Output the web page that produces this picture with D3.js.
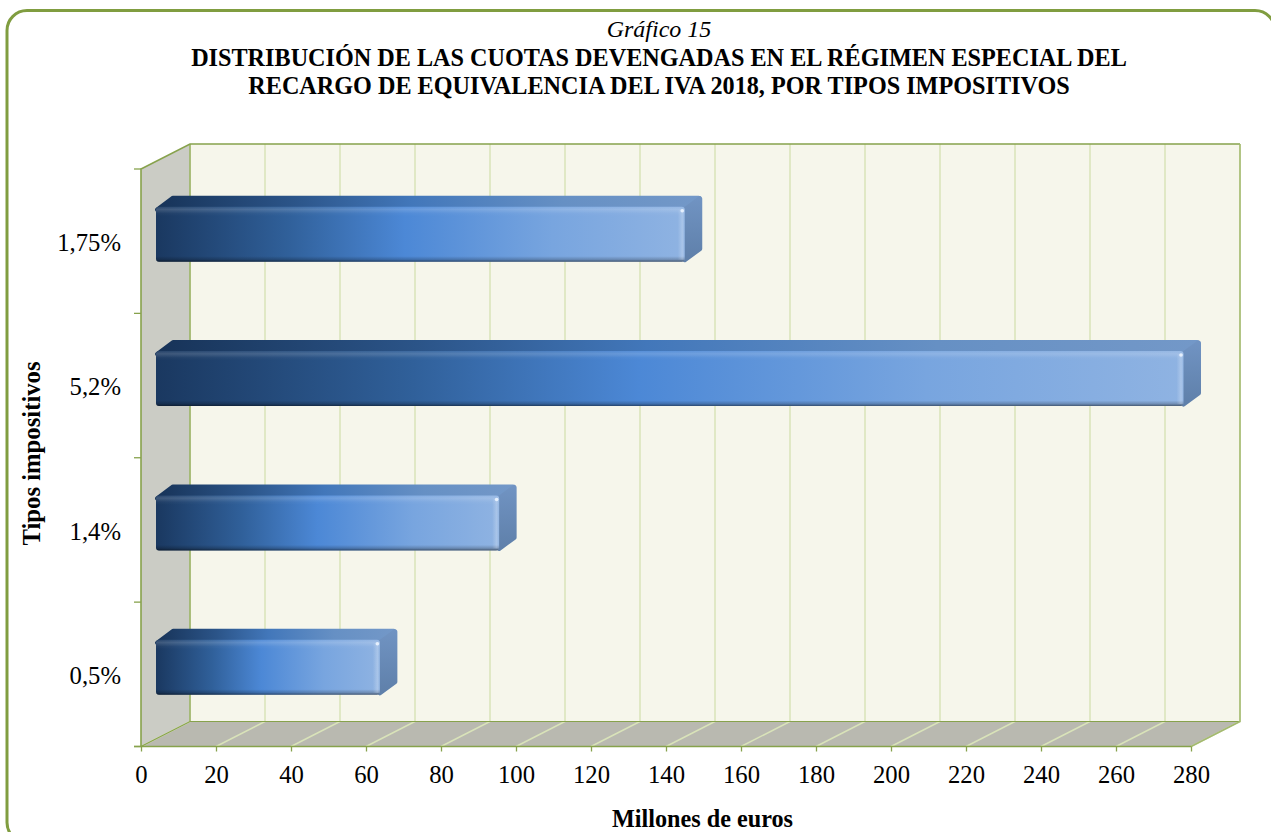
<!DOCTYPE html>
<html lang="en">
<head>
  <meta charset="utf-8">
  <script src="https://d3js.org/d3.v7.min.js"></script>
  <style>
    html, body { margin: 0; padding: 0; background: #fff; overflow: hidden; }
    svg { display: block; }
    text { font-family: "Liberation Serif", serif; fill: #000; }
  </style>
</head>
<body>
<script>
  // data
  const categories = ["1,75%", "5,2%", "1,4%", "0,5%"];
  const values = [141, 274, 91.5, 59.7];
  const xTicks = d3.range(0, 281, 20);
  const titleLines = [
    "DISTRIBUCIÓN DE LAS CUOTAS DEVENGADAS EN EL RÉGIMEN ESPECIAL DEL",
    "RECARGO DE EQUIVALENCIA DEL IVA 2018, POR TIPOS IMPOSITIVOS"
  ];

  const w = 1271, h = 832;
  const plot = { left: 141, right: 1191, top: 169, bottom: 746.5 };
  const depth = { x: 49, y: -25 };     // how far the back wall sits from the front edge
  const barDepth = { x: 17, y: -11 };
  const green = "#87a24c", grid = "#d9e3b9";

  const svg = d3.select("body").append("svg").attr("width", w).attr("height", h);

  const xScale = d3.scaleLinear().domain([0, 280]).range([plot.left, plot.right]);
  const yScale = d3.scaleBand().domain(categories).range([plot.top, plot.bottom]);

  // gradients
  const defs = svg.append("defs");
  function gradient(id, stops, vertical) {
    const g = defs.append("linearGradient").attr("id", id)
      .attr("x1", 0).attr("y1", 0).attr("x2", vertical ? 0 : 1).attr("y2", vertical ? 1 : 0);
    stops.forEach(s => g.append("stop").attr("offset", s[0]).attr("stop-color", s[1]).attr("stop-opacity", s[2] === undefined ? 1 : s[2]));
  }
  gradient("front", [[0, "#1a3860"], [0.25, "#30609a"], [0.47, "#4c88d6"], [0.75, "#78a5df"], [1, "#8fb3e2"]]);
  gradient("top", [[0, "#173358"], [0.25, "#2b5488"], [0.47, "#4277ba"], [0.75, "#6690c4"], [1, "#7398c8"]]);
  gradient("side", [[0, "#7093c2"], [1, "#5f80aa"]], true);
  gradient("shade", [[0, "#fff", 0.06], [0.05, "#fff", 0.16], [0.12, "#fff", 0.03], [0.17, "#fff", 0], [0.9, "#000", 0], [0.96, "#000", 0.2], [1, "#000", 0.5]], true);
  gradient("edge", [[0, "#fff", 0], [0.65, "#fff", 0.24], [1, "#fff", 0.04]]);

  // frame
  svg.append("rect")
    .attr("x", 7).attr("y", 10.5).attr("width", 1268).attr("height", 832).attr("rx", 20)
    .attr("fill", "#fff").attr("stroke", "#809d40").attr("stroke-width", 3);

  // walls and floor
  const line = d3.line();
  const xb = plot.left + depth.x, xe = plot.right + depth.x;
  const yb = plot.top + depth.y, ye = plot.bottom + depth.y;
  svg.append("path").attr("d", line([[xb, yb], [xe, yb], [xe, ye], [xb, ye]]) + "Z").attr("fill", "#f6f6eb");
  svg.append("path").attr("d", line([[plot.left, plot.top], [xb, yb], [xb, ye], [plot.left, plot.bottom]]) + "Z").attr("fill", "#cbccc5");
  svg.append("path").attr("d", line([[plot.left, plot.bottom], [xb, ye], [xe, ye], [plot.right, plot.bottom]]) + "Z").attr("fill", "#b9b9b0");

  // gridlines, wall and floor part
  svg.append("g").selectAll("path").data(xTicks).enter().append("path")
    .attr("d", d => line([[xScale(d), plot.bottom], [xScale(d) + depth.x, ye], [xScale(d) + depth.x, yb]]))
    .attr("fill", "none").attr("stroke", grid).attr("stroke-width", 1.5);

  // outlines
  svg.append("path")
    .attr("d", line([[plot.left, plot.bottom], [plot.left, plot.top], [xb, yb], [xe, yb]]))
    .attr("fill", "none").attr("stroke", green).attr("stroke-width", 1.6);
  svg.append("path")
    .attr("d", line([[plot.left, plot.bottom], [xb, ye], [xe, ye]]) + "M" + xb + "," + yb + "L" + xb + "," + ye)
    .attr("fill", "none").attr("stroke", green).attr("stroke-width", 1.2);
  svg.append("path")
    .attr("d", line([[xe, yb], [xe, ye], [plot.right, plot.bottom]]))
    .attr("fill", "none").attr("stroke", "#a3b96f").attr("stroke-width", 1.5);

  // x axis
  const xAxis = svg.append("g")
    .attr("transform", "translate(0," + plot.bottom + ")")
    .call(d3.axisBottom(xScale).tickValues(xTicks).tickFormat(d => d).tickSize(5).tickPadding(14));
  xAxis.select(".domain").attr("stroke", green).attr("stroke-width", 1.6).attr("d", "M" + (plot.left - 7) + ",0H" + plot.right);
  xAxis.selectAll("line").attr("stroke", green).attr("stroke-width", 1.3);
  xAxis.selectAll("text").attr("font-size", 24.7).attr("font-family", "Liberation Serif").attr("fill", "#000");

  // y axis, labels on the bands and ticks on the band edges
  const yAxis = svg.append("g")
    .attr("transform", "translate(" + plot.left + ",0)")
    .call(d3.axisLeft(yScale).tickSize(0).tickPadding(20));
  yAxis.select(".domain").remove();
  yAxis.selectAll("text").attr("font-size", 24.7).attr("font-family", "Liberation Serif").attr("fill", "#000").attr("dy", "0.4em");
  svg.append("g").selectAll("line").data(categories.concat(["end"])).enter().append("line")
    .attr("x1", plot.left - 7).attr("x2", plot.left)
    .attr("y1", (d, i) => i < categories.length ? yScale(d) : plot.bottom)
    .attr("y2", (d, i) => i < categories.length ? yScale(d) : plot.bottom)
    .attr("stroke", green).attr("stroke-width", 1.3);

  // bars sit in the middle of the chart depth
  const inset = { x: (depth.x - barDepth.x) / 2, y: (depth.y - barDepth.y) / 2 };
  const barH = 55;
  const bars = svg.append("g").selectAll("g")
    .data(categories.map((c, i) => ({ cat: c, val: values[i] })))
    .enter().append("g")
    .attr("transform", d => "translate(0," + (yScale(d.cat) + (yScale.bandwidth() - barH) / 2 + inset.y) + ")");

  const x0 = xScale(0) + inset.x - 1;
  const x1 = d => xScale(d.val) + inset.x - 1;

  bars.append("path")
    .attr("d", d => line([[x0 + 1, 3], [x0 + barDepth.x, barDepth.y + 2], [x1(d) + barDepth.x - 3, barDepth.y + 2], [x1(d) + 4, 5]]) + "Z")
    .attr("fill", "url(#top)").attr("stroke", "url(#top)").attr("stroke-width", 4).attr("stroke-linejoin", "round");
  bars.append("path")
    .attr("d", d => line([[x1(d), 3], [x1(d) + barDepth.x - 2, barDepth.y + 3], [x1(d) + barDepth.x - 2, barH + barDepth.y - 2], [x1(d), barH - 2]]) + "Z")
    .attr("fill", "url(#side)").attr("stroke", "url(#side)").attr("stroke-width", 5).attr("stroke-linejoin", "round");
  bars.append("rect")
    .attr("x", x0).attr("y", 0).attr("width", d => x1(d) - x0).attr("height", barH).attr("rx", 3)
    .attr("fill", "url(#front)");
  bars.append("rect")
    .attr("x", x0).attr("y", 0).attr("width", d => x1(d) - x0).attr("height", barH).attr("rx", 3)
    .attr("fill", "url(#shade)");
  bars.append("rect")
    .attr("x", d => x1(d) - 7).attr("y", 3).attr("width", 7).attr("height", barH - 5)
    .attr("fill", "url(#edge)");
  bars.append("circle")
    .attr("cx", d => x1(d) - 2.5).attr("cy", 4).attr("r", 1.8)
    .attr("fill", "#e6f0fd");

  // texts
  svg.append("text").attr("x", 659).attr("y", 37).attr("text-anchor", "middle")
    .attr("font-size", 24).attr("font-style", "italic").text("Gráfico 15");
  svg.selectAll(".title").data(titleLines).enter().append("text").attr("class", "title")
    .attr("x", 659).attr("y", (d, i) => 66 + i * 28).attr("text-anchor", "middle")
    .attr("font-size", 24.2).attr("font-weight", "bold").text(d => d);
  svg.append("text").attr("x", 702.5).attr("y", 827).attr("text-anchor", "middle")
    .attr("font-size", 24.2).attr("font-weight", "bold").text("Millones de euros");
  svg.append("text").attr("transform", "translate(40,453.5) rotate(-90)").attr("text-anchor", "middle")
    .attr("font-size", 24.7).attr("font-weight", "bold").text("Tipos impositivos");
</script>
</body>
</html>
